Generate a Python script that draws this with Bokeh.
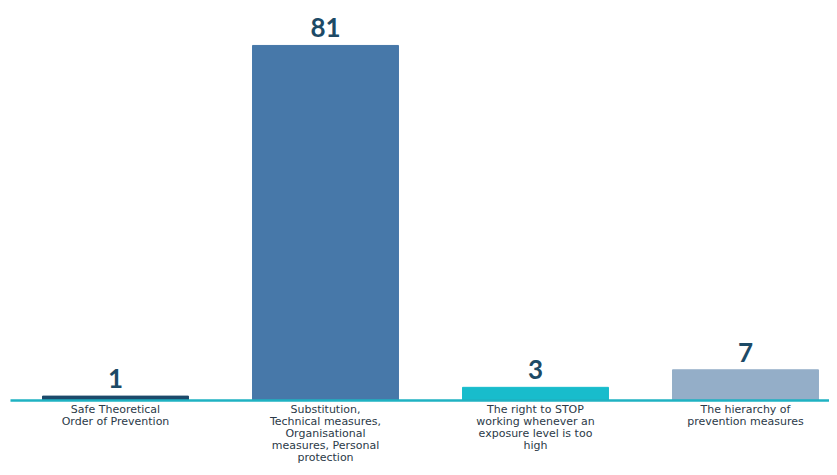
from bokeh.plotting import figure
from bokeh.models import ColumnDataSource, Range1d
from bokeh.core.properties import value
from bokeh.embed import file_html
from bokeh.resources import INLINE

categories = [
    "Safe Theoretical\nOrder of Prevention",
    "Substitution,\nTechnical measures,\nOrganisational\nmeasures, Personal\nprotection",
    "The right to STOP\nworking whenever an\nexposure level is too\nhigh",
    "The hierarchy of\nprevention measures",
]
counts = [1, 81, 3, 7]
colors = ["#1d4a6b", "#4778a9", "#18bccc", "#94aec8"]

xs = list(range(len(categories)))
src = ColumnDataSource(dict(x=xs, top=counts, color=colors, cat=categories,
                            lbl=[str(c) for c in counts], zero=[0] * len(xs)))

p = figure(width=829, height=467, output_backend="svg", toolbar_location=None,
           x_range=Range1d(-0.5476, 3.4), y_range=Range1d(-15.29, 91.26),
           min_border=0, outline_line_color=None)
p.axis.visible = False
p.grid.visible = False
p.background_fill_color = "white"

p.vbar(x="x", top="top", width=0.695, color="color", source=src)
p.segment(x0=[-0.5], y0=[0], x1=[3.6], y1=[0], line_color="#1fb2c2", line_width=2.5)

p.text(x="x", y="top", text="lbl", source=src, text_align="center", text_baseline="bottom",
       y_offset=-8, text_font=value("Lato"), text_font_style="bold",
       text_font_size="26px", text_color="#1d4a66")

p.text(x="x", y="zero", text="cat", source=src, text_align="center", text_baseline="top",
       y_offset=3, text_font=value("DejaVu Sans"), text_font_size="11px",
       text_color="#2b3a48", text_line_height=0.92)

open("out.html", "w").write(file_html(p, INLINE))
